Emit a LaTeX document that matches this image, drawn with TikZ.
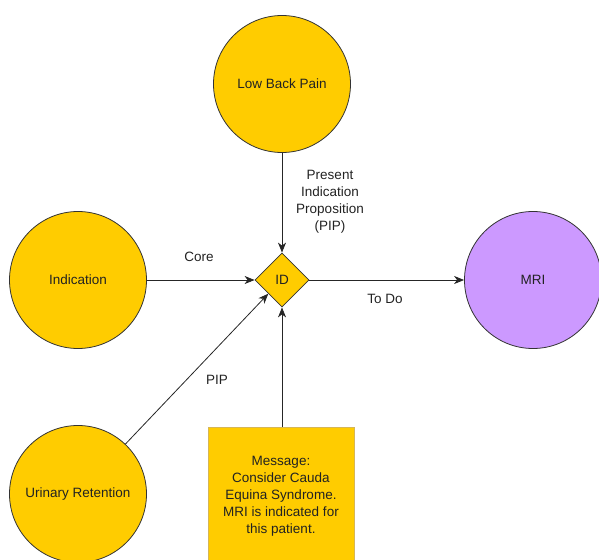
\documentclass[tikz,border=0pt]{standalone}
\usepackage{fontspec}
\setmainfont{Liberation Sans}
\usetikzlibrary{shapes.geometric,arrows.meta}
\definecolor{gold}{HTML}{FFCC00}
\definecolor{lilac}{HTML}{CC99FF}
\definecolor{edgegold}{HTML}{D6B656}
\definecolor{txt}{HTML}{222222}
\begin{document}
\begin{tikzpicture}[x=1pt,y=-1pt,
  font=\fontsize{13.5}{17}\selectfont, text=txt,
  circ/.style={circle,draw=black!80,line width=0.8pt,fill=gold,minimum size=137pt,inner sep=0pt},
  conn/.style={draw=black!85,line width=0.8pt,-{Stealth[length=10pt,width=8pt,inset=3pt]}},
  lbl/.style={align=center,inner sep=0pt}]
\useasboundingbox (0,0) rectangle (599,559);
\node[circ] (lbp) at (282,84) {Low Back Pain};
\node[circ] (ind) at (78,280) {Indication};
\node[circ,fill=lilac] (mri) at (533,280) {MRI};
\node[circ] (ur) at (78,494) {Urinary Retention};
\node[diamond,draw=black!80,line width=0.8pt,fill=gold,minimum width=54pt,minimum height=54pt,inner sep=0pt] (id) at (282,280) {ID};
\node[draw=edgegold,line width=0.6pt,fill=gold,minimum width=146pt,minimum height=150pt,anchor=north west,inner sep=0pt] (msg) at (208,427) {};
\node[lbl] (msgtxt) at (281,496) {Message:\\Consider Cauda\\Equina Syndrome.\\MRI is indicated for\\this patient.};
\draw[conn] (lbp) -- (id.north);
\draw[conn] (ind) -- (id.west);
\draw[conn] (id.east) -- (mri.west);
\draw[conn] (msg.north -| id.south) -- (id.south);
\draw[conn] (ur) -- (id.south west);
\node[lbl] (l1) at (330,202) {Present\\Indication\\Proposition\\(PIP)};
\node[lbl] (l2) at (199,257) {Core};
\node[lbl] (l3) at (385,299) {To Do};
\node[lbl] (l4) at (217,380) {PIP};
\end{tikzpicture}
\end{document}
